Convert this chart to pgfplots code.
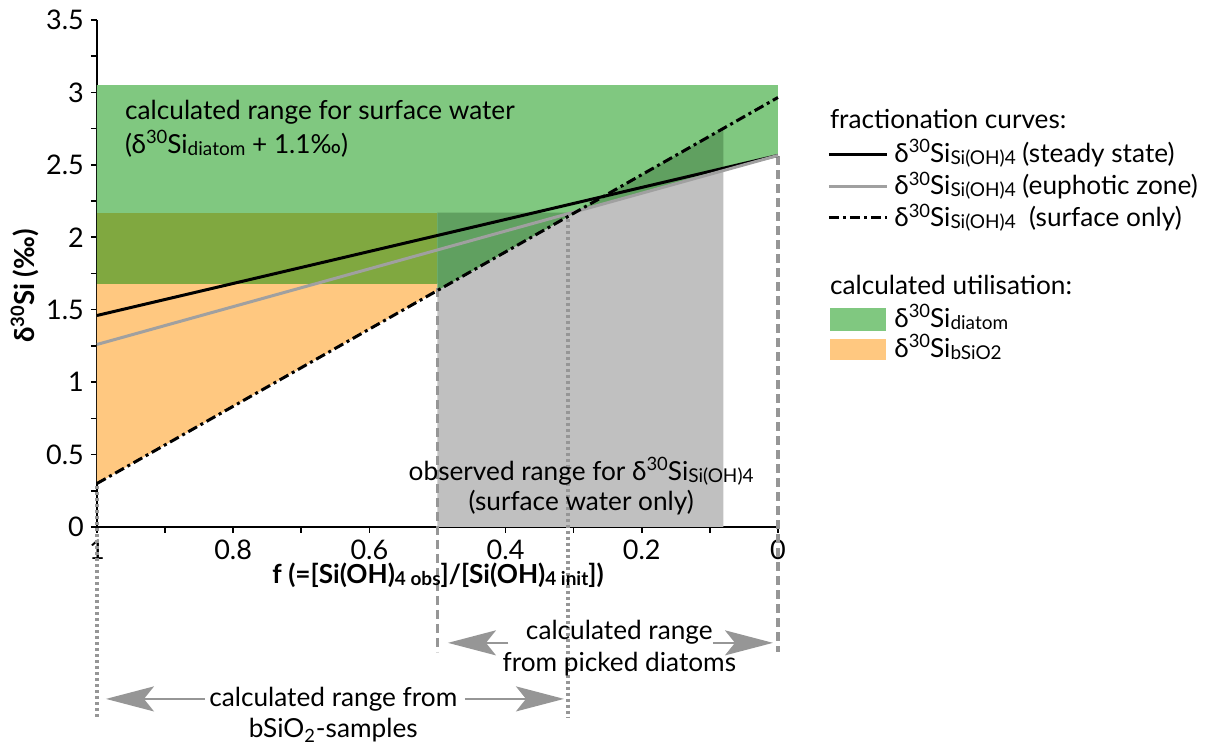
\documentclass[border=0pt]{standalone}
\usepackage{fontspec}
\setmainfont{Lato}
\usepackage{pgfplots}
\pgfplotsset{compat=1.18}
\usetikzlibrary{arrows.meta}
\definecolor{lgreen}{RGB}{128,200,128}
\definecolor{olive}{RGB}{128,168,64}
\definecolor{dgreen}{RGB}{96,160,96}
\definecolor{lorange}{RGB}{255,200,128}
\definecolor{obsgray}{RGB}{192,192,192}
\definecolor{curvegray}{RGB}{160,160,160}
\definecolor{refgray}{RGB}{150,150,150}
\definecolor{arrgray}{RGB}{150,150,150}
\newcommand\sups[1]{\raisebox{0.75ex}{\fontsize{9.2}{10}\selectfont #1}}
\newcommand\sub[1]{\raisebox{-0.15ex}{\fontsize{9.5}{10}\selectfont #1}}
\newcommand\dS[1]{δ\sups{30}Si\sub{#1}}
\tikzset{
  dashdot/.style={line width=1.5pt,dash pattern=on 5pt off 2pt on 1.5pt off 2pt},
  refdash/.style={refgray,line width=1.8pt,dash pattern=on 4.5pt off 2.5pt},
  refdot/.style={refgray,line width=1.7pt,dash pattern=on 1.5pt off 1.5pt},
  rarr/.style={arrgray,line width=1pt,-{Stealth[length=24pt,width=12.5pt,inset=5pt]}},
}
\begin{document}
\begin{tikzpicture}[font=\fontsize{13.1}{16}\selectfont]
\begin{axis}[
  scale only axis, width=340.5pt, height=253.5pt,
  x dir=reverse, xmin=0, xmax=1, ymin=0, ymax=3.5,
  axis x line*=bottom, axis y line*=left,
  axis line style={line width=0.8pt,-},
  xtick={0,0.2,0.4,0.6,0.8,1}, minor xtick={0.1,0.3,0.5,0.7,0.9},
  ytick={0,0.5,1,1.5,2,2.5,3,3.5}, minor ytick={0.25,0.75,1.25,1.75,2.25,2.75,3.25},
  tick align=outside, major tick length=3pt, minor tick length=3pt,
  tick style={line width=0.8pt,black},
  /pgf/number format/assume math mode=true,
  tick label style={font=\fontsize{13.5}{16}\selectfont},
  clip=false,
]
% utilisation ranges and observed range
\addplot[fill=lgreen,draw=none] coordinates {(1,1.68) (1,3.05) (0,3.05) (0,2.565) (0.294,2.181) (0.482,1.68)} -- cycle;
\addplot[fill=lorange,draw=none] coordinates {(1,0.30) (1,1.68) (0.5,1.68) (0.5,1.6325)} -- cycle;
\addplot[fill=olive,draw=none] coordinates {(1,1.68) (1,2.17) (0.5,2.17) (0.5,1.68)} -- cycle;
\addplot[fill=obsgray,draw=none] coordinates {(0.5,0) (0.5,1.6325) (0.294,2.181) (0.08,2.4606) (0.08,0)} -- cycle;
\addplot[fill=dgreen,draw=none] coordinates {(0.5,1.6325) (0.5,2.17) (0.298,2.17) (0.08,2.7518) (0.08,2.4606) (0.294,2.181)} -- cycle;
% reference lines
\addplot[refdash] coordinates {(0.5,1.65) (0.5,-0.863)};
\addplot[refdash] coordinates {(0,2.56) (0,-0.863)};
\addplot[refdot] coordinates {(0.3084,2.17) (0.3084,-1.318)};
\addplot[refdot] coordinates {(1,0.28) (1,-1.318)};
% fractionation curves
\addplot[black,line width=1.5pt] coordinates {(1,1.46) (0,2.565)};
\addplot[curvegray,line width=1.5pt] coordinates {(1,1.26) (0,2.565)};
\addplot[black,dashdot] coordinates {(1,0.30) (0,2.965)};
% labels in plot
\node[anchor=base west] at (axis cs:0.969,2.81) {calculated range for surface water};
\node[anchor=base west] at (axis cs:0.969,2.58) {(\dS{diatom} + 1.1‰)};
\node[anchor=base] at (axis cs:0.289,0.324) {observed range for \dS{Si(OH)4}};
\node[anchor=base] at (axis cs:0.289,0.117) {(surface water only)};
\node[anchor=base,inner sep=0pt,font=\bfseries\fontsize{13.1}{16}\selectfont] at (axis cs:0.499,-0.387) {f (=[Si(OH)\sub{4 obs}]/[Si(OH)\sub{4 init}])};
\node[rotate=90,inner sep=0pt,font=\bfseries\fontsize{13.8}{16}\selectfont] at (axis cs:1.1057,1.664) {δ\sups{30}Si (‰)};
% ranges below the axis
\draw[rarr] (axis cs:0.396,-0.80) -- (axis cs:0.4846,-0.80);
\draw[rarr] (axis cs:0.0954,-0.80) -- (axis cs:0.0073,-0.80);
\node[anchor=base] at (axis cs:0.233,-0.78) {calculated range};
\node[anchor=base] at (axis cs:0.233,-1.001) {from picked diatoms};
\draw[rarr] (axis cs:0.8414,-1.187) -- (axis cs:0.9868,-1.187);
\draw[rarr] (axis cs:0.4596,-1.187) -- (axis cs:0.3142,-1.187);
\node[anchor=base] at (axis cs:0.653,-1.236) {calculated range from};
\node[anchor=base] at (axis cs:0.653,-1.45) {bSiO\textsubscript{2}-samples};
% legend
\node[anchor=base west] at (axis cs:-0.0661,2.754) {fractionation curves:};
\draw[black,line width=1.5pt] (axis cs:-0.0749,2.568) -- (axis cs:-0.160,2.568);
\draw[curvegray,line width=1.5pt] (axis cs:-0.0749,2.347) -- (axis cs:-0.160,2.347);
\draw[black,dashdot] (axis cs:-0.0749,2.133) -- (axis cs:-0.160,2.133);
\node[anchor=base west,inner sep=0pt] at (axis cs:-0.1703,2.513) {\dS{Si(OH)4} (steady state)};
\node[anchor=base west,inner sep=0pt] at (axis cs:-0.1703,2.292) {\dS{Si(OH)4} (euphotic zone)};
\node[anchor=base west,inner sep=0pt] at (axis cs:-0.1703,2.071) {\dS{Si(OH)4}\ \ (surface only)};
\node[anchor=base west] at (axis cs:-0.0661,1.608) {calculated utilisation:};
\fill[lgreen] (axis cs:-0.0764,1.512) rectangle (axis cs:-0.1586,1.353);
\fill[lorange] (axis cs:-0.0764,1.298) rectangle (axis cs:-0.1586,1.153);
\node[anchor=base west,inner sep=0pt] at (axis cs:-0.1703,1.374) {\dS{diatom}};
\node[anchor=base west,inner sep=0pt] at (axis cs:-0.1703,1.167) {\dS{bSiO2}};
\coordinate (bl) at (axis cs:1.1424,-1.505);
\coordinate (tr) at (axis cs:-0.630,3.638);
\end{axis}
\pgfresetboundingbox
\path (bl) rectangle (tr);
\end{tikzpicture}
\end{document}
